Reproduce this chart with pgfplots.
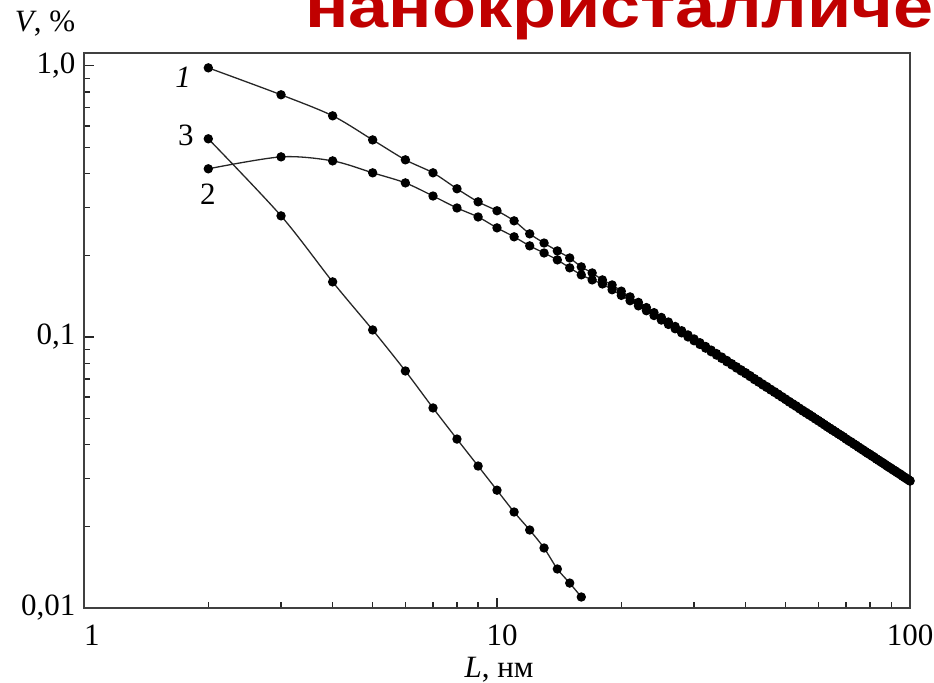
\documentclass[border=0pt]{standalone}
\usepackage{pgfplots}
\pgfplotsset{compat=1.18}
\usepackage{fontspec}
\usepackage{graphicx}
\setmainfont{Liberation Serif}
\newfontfamily\titlefont{Liberation Sans}
\definecolor{titlered}{RGB}{192,0,0}
\begin{document}
\fontsize{15.5pt}{18pt}\selectfont
\begin{tikzpicture}
\begin{axis}[
  at={(42pt,37pt)}, anchor=south west,
  scale only axis, width=413pt, height=277.5pt,
  xmode=log, ymode=log,
  xmin=1, xmax=100, ymin=0.01, ymax=1.115,
  xtick={1,10,100}, xticklabels={\hspace*{8pt}1,\hspace*{5pt}10,100},
  ytick={0.01,0.1,1}, yticklabels={{0,01},{0,1},{1,0}},
  minor xtick={2,3,4,5,6,7,8,9,20,30,40,50,60,70,80,90},
  minor ytick={0.02,0.03,0.04,0.05,0.06,0.07,0.08,0.09,0.2,0.3,0.4,0.5,0.6,0.7,0.8,0.9},
  xtick pos=bottom, ytick pos=left,
  tick align=inside,
  major tick length=5pt, minor tick length=3pt,
  axis line style={black!75, line width=0.8pt},
  every tick/.style={black!85, line width=0.6pt},
  xticklabel style={yshift=-3pt},
  yticklabel style={xshift=1pt},
  clip=false,
]
\addplot[black!85, line width=0.65pt, smooth, mark=*, mark size=2pt, mark options={black, solid}] table {
x y
2 0.983
3 0.782
4 0.654
5 0.533
6 0.450
7 0.403
8 0.352
9 0.315
10 0.292
11 0.268
12 0.240
13 0.222
14 0.2076
15 0.1956
16 0.1813
17 0.1722
18 0.1623
19 0.1555
20 0.1475
21 0.1405
22 0.1341
23 0.1283
24 0.1229
25 0.1180
26 0.1135
27 0.1093
28 0.1054
29 0.1017
30 0.0983
31 0.0952
32 0.0922
33 0.0894
34 0.0868
35 0.0843
36 0.0819
37 0.0797
38 0.0776
39 0.0756
40 0.0738
41 0.0720
42 0.0702
43 0.0686
44 0.0670
45 0.0656
46 0.0641
47 0.0628
48 0.0615
49 0.0602
50 0.0590
51 0.0578
52 0.0567
53 0.0557
54 0.0546
55 0.0536
56 0.0527
57 0.0518
58 0.0509
59 0.0500
60 0.0492
61 0.0484
62 0.0476
63 0.0468
64 0.0461
65 0.0454
66 0.0447
67 0.0440
68 0.0434
69 0.0428
70 0.0421
71 0.0415
72 0.0410
73 0.0404
74 0.0399
75 0.0393
76 0.0388
77 0.0383
78 0.0378
79 0.0373
80 0.0369
81 0.0364
82 0.0360
83 0.0355
84 0.0351
85 0.0347
86 0.0343
87 0.0339
88 0.0335
89 0.0331
90 0.0328
91 0.0324
92 0.0321
93 0.0317
94 0.0314
95 0.0311
96 0.0307
97 0.0304
98 0.0301
99 0.0298
100 0.0295
};
\addplot[black!85, line width=0.65pt, smooth, mark=*, mark size=2pt, mark options={black, solid}] table {
x y
2 0.417
3 0.4615
4 0.446
5 0.403
6 0.370
7 0.331
8 0.299
9 0.277
10 0.2525
11 0.234
12 0.2167
13 0.204
14 0.1924
15 0.1798
16 0.1694
17 0.1623
18 0.1568
19 0.1493
20 0.1423
21 0.1360
22 0.1302
23 0.1249
24 0.1199
25 0.1154
26 0.1112
27 0.1072
28 0.1035
29 0.1000
30 0.0968
31 0.0938
32 0.0909
33 0.0882
34 0.0857
35 0.0833
36 0.0810
37 0.0789
38 0.0768
39 0.0749
40 0.0732
41 0.0714
42 0.0696
43 0.0681
44 0.0665
45 0.0651
46 0.0637
47 0.0624
48 0.0611
49 0.0599
50 0.0587
51 0.0575
52 0.0564
53 0.0554
54 0.0543
55 0.0533
56 0.0524
57 0.0515
58 0.0507
59 0.0498
60 0.0490
61 0.0482
62 0.0474
63 0.0466
64 0.0459
65 0.0452
66 0.0446
67 0.0439
68 0.0433
69 0.0427
70 0.0420
71 0.0414
72 0.0409
73 0.0403
74 0.0398
75 0.0392
76 0.0387
77 0.0382
78 0.0377
79 0.0372
80 0.0368
81 0.0363
82 0.0359
83 0.0354
84 0.0350
85 0.0346
86 0.0342
87 0.0338
88 0.0334
89 0.0330
90 0.0327
91 0.0323
92 0.0320
93 0.0316
94 0.0313
95 0.0310
96 0.0306
97 0.0303
98 0.0300
99 0.0297
100 0.0294
};
\addplot[black!85, line width=0.65pt, smooth, mark=*, mark size=2pt, mark options={black, solid}] table {
x y
2 0.538
3 0.2796
4 0.1596
5 0.1061
6 0.0749
7 0.0547
8 0.0420
9 0.0334
10 0.0272
11 0.0226
12 0.0194
13 0.01665
14 0.01393
15 0.01236
16 0.01098
};
\node at (axis cs:1.737,0.911) {\textit{1}};
\node at (axis cs:1.766,0.556) {3};
\node at (axis cs:1.996,0.337) {2};
\end{axis}
\node[anchor=base, inner sep=0pt] at (22.5pt,325pt) {\textit{V}, \%};
\node[anchor=base, inner sep=0pt] at (249.5pt,2.5pt) {\textit{L}, нм};
\node[anchor=base west, inner sep=0pt, overlay, text=titlered] at (152.5pt,327pt)
  {\scalebox{1.2}[1]{\titlefont\bfseries\fontsize{30pt}{35pt}\selectfont нанокристалличе}};
\pgfresetboundingbox
\useasboundingbox (0pt,0pt) rectangle (467pt,341pt);
\end{tikzpicture}
\end{document}
